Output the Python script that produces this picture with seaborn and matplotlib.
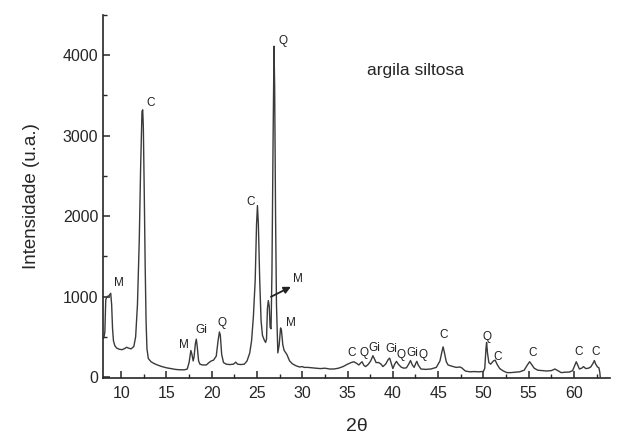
import pandas as pd
import matplotlib
matplotlib.use("Agg")
import matplotlib.pyplot as plt
import seaborn as sns
from matplotlib.ticker import MultipleLocator

# difratograma (2theta, intensidade)
two_theta = [
    8.0, 8.1, 8.2, 8.3, 8.45, 8.65, 8.85, 8.95, 9.05, 9.15, 9.3, 9.5, 9.8, 10.1,
    10.4, 10.6, 10.8, 11.1, 11.4, 11.6, 11.8, 12.0, 12.15, 12.3, 12.38, 12.45,
    12.55, 12.65, 12.75, 12.85, 13.0, 13.3, 13.6, 14.0, 14.5, 15.0, 15.5, 16.0,
    16.5, 17.0, 17.3, 17.5, 17.7, 17.82, 17.95, 18.05, 18.2, 18.3, 18.4, 18.55,
    18.7, 19.0, 19.4, 19.7, 19.95, 20.2, 20.5, 20.7, 20.85, 20.95, 21.1, 21.3,
    21.6, 22.0, 22.4, 22.65, 22.85, 23.2, 23.6, 23.9, 24.2, 24.4, 24.6, 24.8,
    24.95, 25.05, 25.15, 25.3, 25.45, 25.6, 25.8, 25.95, 26.05, 26.15, 26.25,
    26.35, 26.45, 26.55, 26.65, 26.78, 26.88, 26.95, 27.05, 27.15, 27.3, 27.45,
    27.6, 27.7, 27.85, 28.0, 28.3, 28.6, 28.9, 29.3, 29.7, 30.0, 30.2, 30.6,
    31.0, 31.5, 32.0, 32.5, 33.0, 33.5, 34.0, 34.5, 35.0, 35.4, 35.7, 36.0,
    36.25, 36.45, 36.6, 36.8, 37.0, 37.3, 37.55, 37.8, 37.95, 38.15, 38.45,
    38.7, 38.9, 39.2, 39.5, 39.65, 39.8, 40.0, 40.2, 40.4, 40.6, 40.9, 41.2,
    41.5, 41.75, 41.95, 42.15, 42.35, 42.55, 42.65, 42.8, 43.1, 43.6, 44.2,
    44.8, 45.2, 45.45, 45.55, 45.7, 45.9, 46.1, 46.5, 47.0, 47.4, 47.6, 48.0,
    48.5, 49.0, 49.5, 50.0, 50.15, 50.28, 50.35, 50.45, 50.6, 50.8, 51.1, 51.3,
    51.5, 51.8, 52.2, 52.6, 53.0, 53.5, 54.0, 54.5, 54.85, 55.1, 55.3, 55.6,
    56.0, 56.5, 57.0, 57.5, 57.9, 58.2, 58.6, 59.0, 59.5, 59.85, 60.1, 60.25,
    60.4, 60.6, 60.85, 61.05, 61.3, 61.6, 61.85, 62.1, 62.25, 62.4, 62.6,
    62.75, 62.85, 62.9,
]
intensidade = [
    480, 490, 560, 960, 1000, 1010, 1040, 900, 600, 450, 390, 360, 345, 340,
    355, 370, 360, 350, 380, 500, 900, 1700, 2600, 3300, 3320, 3100,
    2300, 1400, 700, 350, 230, 190, 170, 150, 130, 115, 105, 95,
    90, 90, 100, 180, 330, 280, 200, 250, 420, 470, 380, 200,
    160, 150, 150, 180, 200, 210, 260, 450, 560, 520, 280, 180,
    160, 155, 160, 185, 160, 155, 160, 200, 300, 450, 750, 1200,
    1900, 2130, 1900, 1200, 700, 520, 460, 430, 470, 850, 950,
    880, 620, 600, 1300, 3000, 4110, 3600, 2000, 900, 300, 400,
    610, 580, 400, 330, 280, 200, 165, 140, 125, 130, 120, 120,
    115, 110, 105, 110, 100, 100, 110, 130, 160, 180, 190, 170,
    150, 175, 190, 145, 130, 160, 200, 265, 230, 180, 180,
    160, 130, 160, 220, 235, 180, 105, 160, 195, 160, 125, 110,
    115, 160, 205, 150, 120, 175, 195, 150, 100, 95, 100,
    120, 200, 330, 375, 300, 190, 150, 135, 120, 125, 115, 75,
    65, 68, 65, 70, 110, 350, 430, 300, 180, 160, 200, 210,
    160, 105, 75, 55, 55, 60, 65, 85, 150, 190, 160, 110,
    85, 80, 75, 80, 100, 80, 55, 60, 62, 80, 150, 190,
    150, 100, 110, 130, 105, 110, 125, 170, 205, 160, 125,
    115, 60, 0,
]

# identificacao das fases
fase_rotulo = ["M", "C", "M", "Gi", "Q", "C", "Q", "M", "M",
               "C", "Q", "Gi", "Gi", "Q", "Gi", "Q", "C",
               "Q", "C", "C", "C", "C"]
fase_x = [9.74, 13.3, 16.98, 18.82, 21.13, 24.33, 27.9, 29.47, 28.74,
          35.43, 36.82, 37.93, 39.8, 40.85, 42.15, 43.38, 45.57,
          50.35, 51.6, 55.38, 60.53, 62.37]
fase_y = [1167, 3400, 397, 584, 667, 2177, 4170, 1213, 667,
          294, 294, 356, 352, 268, 302, 268, 522,
          493, 245, 302, 314, 314]

df = pd.DataFrame({"2theta": two_theta, "I": intensidade})

sns.set_style("ticks")
plt.rcParams["font.family"] = ["Liberation Sans", "DejaVu Sans"]

fig = plt.figure(figsize=(6.17, 4.36), dpi=100)
ax = fig.add_axes([0.167, 0.133, 0.822, 0.833])

sns.lineplot(data=df, x="2theta", y="I", estimator=None, sort=False,
             color="#3a3a3a", linewidth=1.0, ax=ax)

for lab, x, y in zip(fase_rotulo, fase_x, fase_y):
    ax.text(x, y, lab, fontsize=8.5, ha="center", va="center", color="#222222")

# seta apontando do pico M (~26.3) para o rotulo
ax.annotate("", xy=(28.74, 1121), xytext=(26.54, 997),
            arrowprops=dict(arrowstyle="-|>", color="#222222", lw=1.3,
                            mutation_scale=10, shrinkA=0, shrinkB=0))

ax.text(42.45, 3813, "argila siltosa", fontsize=12.5, ha="center", va="center")

ax.set_xlim(8, 64)
ax.set_ylim(-12, 4500)
ax.xaxis.set_major_locator(MultipleLocator(5))
ax.xaxis.set_minor_locator(MultipleLocator(2.5))
ax.yaxis.set_major_locator(MultipleLocator(1000))
ax.yaxis.set_minor_locator(MultipleLocator(500))
ax.tick_params(which="major", direction="in", length=5, width=1.1, labelsize=11.5)
ax.tick_params(axis="x", which="major", pad=6)
ax.tick_params(which="minor", direction="in", length=3, width=1.0)
ax.set_xticks([10, 15, 20, 25, 30, 35, 40, 45, 50, 55, 60])
ax.set_xlabel("2θ", fontsize=14, labelpad=12)
ax.set_ylabel("Intensidade (u.a.)", fontsize=13.5, labelpad=16)
sns.despine(ax=ax)
for s in ["left", "bottom"]:
    ax.spines[s].set_linewidth(1.2)

fig.savefig("out.png", dpi=100)
